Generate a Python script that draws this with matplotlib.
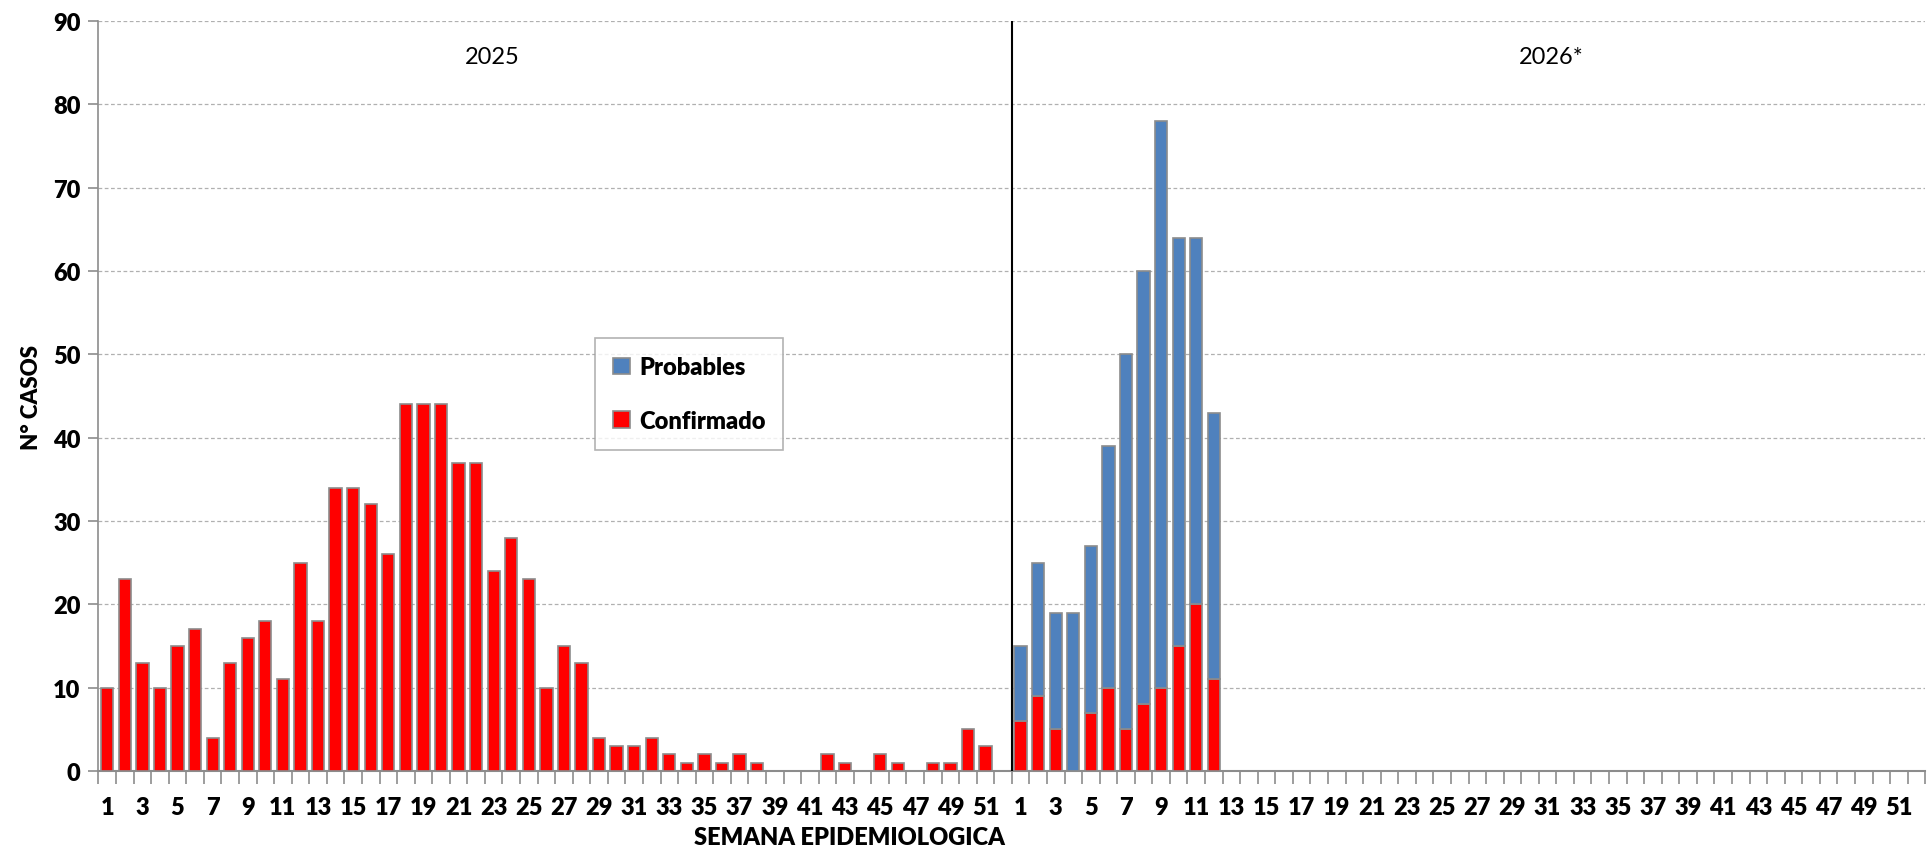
import matplotlib.pyplot as plt
import numpy as np

plt.rcParams['font.family'] = ['Lato', 'DejaVu Sans']

# semanas epidemiologicas 1..52 por año
semanas = list(range(1, 53))

conf_2025 = [10, 23, 13, 10, 15, 17, 4, 13, 16, 18, 11, 25, 18, 34, 34, 32, 26,
             44, 44, 44, 37, 37, 24, 28, 23, 10, 15, 13, 4, 3, 3, 4, 2, 1, 2, 1,
             2, 1, 0, 0, 0, 2, 1, 0, 2, 1, 0, 1, 1, 5, 3, 0]

# 2026 (semanas 1-12 con datos)
conf_2026 = [6, 9, 5, 0, 7, 10, 5, 8, 10, 15, 20, 11]
prob_2026 = [9, 16, 14, 19, 20, 29, 45, 52, 68, 49, 44, 32]

rojo = '#FF0000'
azul = '#4F81BD'
borde = '#8C8C8C'

confirmado = np.array(conf_2025 + conf_2026 + [0] * (52 - len(conf_2026)))
probables = np.array([0] * 52 + prob_2026 + [0] * (52 - len(prob_2026)))
x = np.arange(len(confirmado))

fig = plt.figure(figsize=(19.31, 8.53), dpi=100)
ax = fig.add_axes([0.051, 0.095, 0.946, 0.879])

ancho = 0.7
ax.bar(x, confirmado, width=ancho, color=rojo, edgecolor=borde, linewidth=1.2,
       label='Confirmado', zorder=3)
mask = probables > 0
ax.bar(x[mask], probables[mask], bottom=confirmado[mask], width=ancho, color=azul,
       edgecolor=borde, linewidth=1.2, label='Probables', zorder=3)

ax.set_xlim(-0.5, len(x) - 0.5)
ax.set_ylim(0, 90)
ax.set_yticks(range(0, 91, 10))
ax.yaxis.grid(True, linestyle=(0, (3, 2)), color='#B0B0B0', linewidth=0.9, zorder=0)

# ticks de categoria (estilo excel)
pos = [i for i in x if i % 2 == 0]
etiquetas = [str(semanas[i % 52]) for i in pos]
ax.set_xticks(pos)
ax.set_xticklabels(etiquetas)
ax.tick_params(axis='x', length=0, pad=18)
ax.set_xticks(np.arange(-0.5, len(x), 1), minor=True)
ax.tick_params(axis='x', which='minor', length=9, color=borde, width=1.2)
ax.tick_params(axis='y', length=7, color=borde, width=1.2, pad=6)

for lab in ax.get_xticklabels() + ax.get_yticklabels():
    lab.set_fontsize(17)
    lab.set_fontweight('heavy')

for s in ['top', 'right']:
    ax.spines[s].set_visible(False)
ax.spines['left'].set_color(borde)
ax.spines['bottom'].set_color(borde)
ax.spines['left'].set_linewidth(1.2)
ax.spines['bottom'].set_linewidth(1.5)

ax.axvline(51.5, color='black', linewidth=1.5, zorder=4)

ax.text(21.9, 85.8, '2025', fontsize=17, ha='center', va='center')
ax.text(82.2, 85.8, '2026*', fontsize=17, ha='center', va='center')

ax.set_ylabel('N° CASOS', fontsize=16, fontweight='heavy', labelpad=8)
fig.text(0.44, 0.017, 'SEMANA EPIDEMIOLOGICA', fontsize=17, fontweight='heavy',
         ha='center', va='center')

handles, labels = ax.get_legend_handles_labels()
leg = ax.legend(handles[::-1], labels[::-1], loc='upper left',
                bbox_to_anchor=(0.272, 0.577), frameon=True, fancybox=False,
                edgecolor='#A0A0A0', prop={'size': 17, 'weight': 'heavy'},
                handlelength=0.7, handleheight=0.7, handletextpad=0.4,
                labelspacing=1.35, borderpad=0.75, borderaxespad=0)
leg.get_frame().set_linewidth(1.2)

fig.savefig('out.png', dpi=100)
